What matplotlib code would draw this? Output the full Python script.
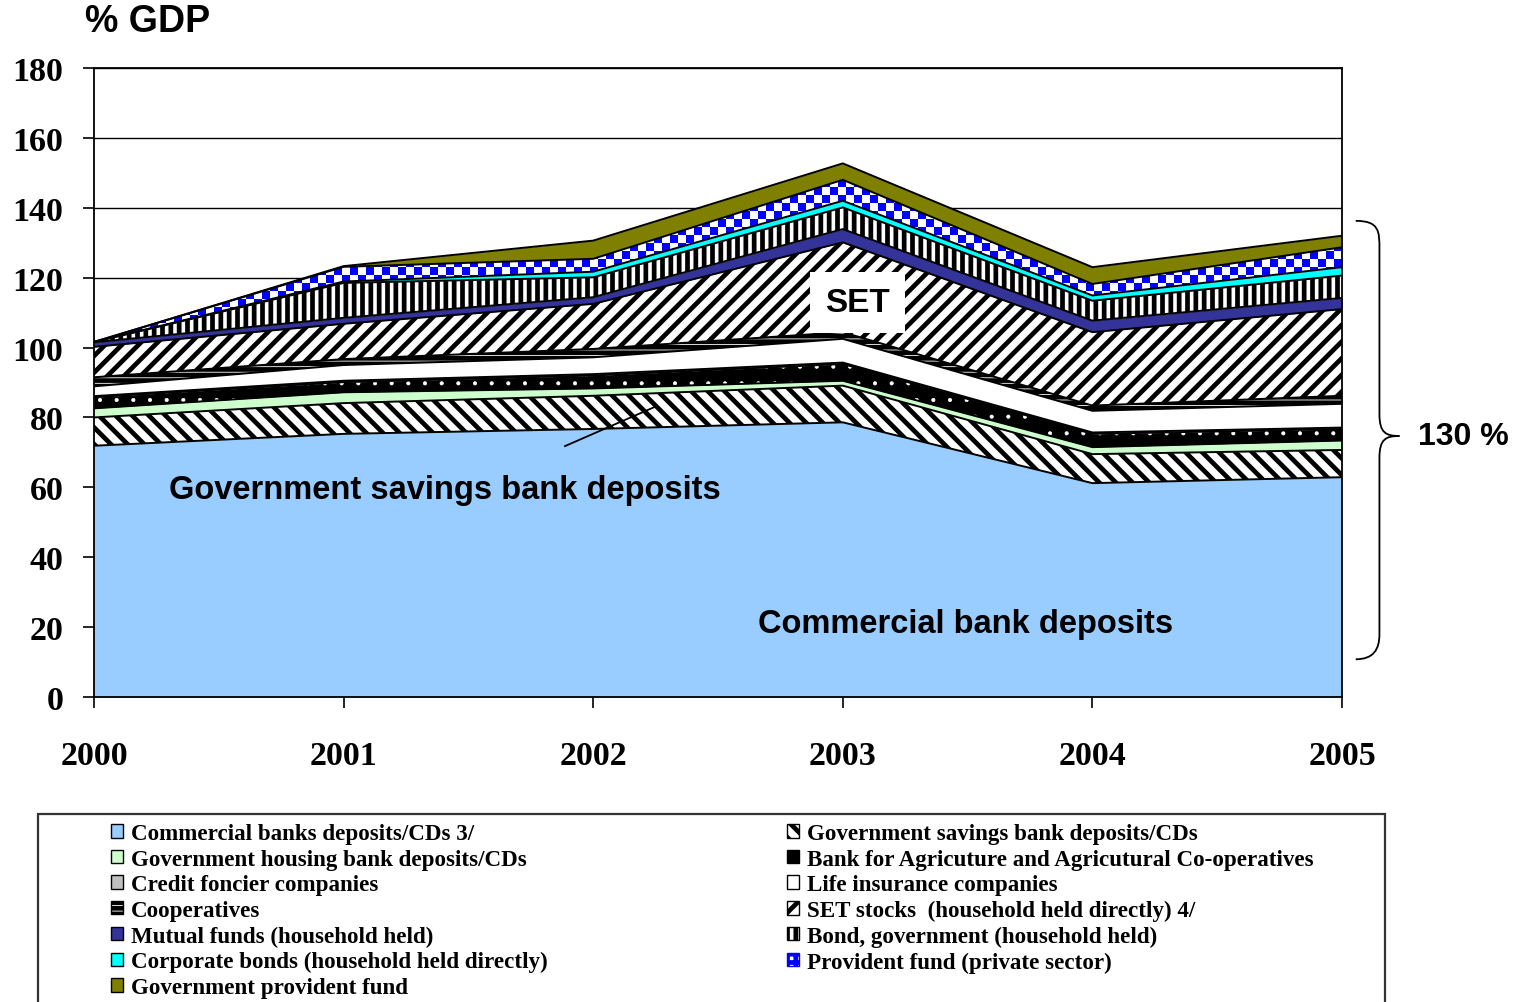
import numpy as np
import matplotlib
import matplotlib.pyplot as plt
from matplotlib.patches import Patch, Rectangle, PathPatch
from matplotlib.path import Path
from matplotlib.colors import ListedColormap

plt.rcParams['hatch.linewidth'] = 3.4

years = [2000, 2001, 2002, 2003, 2004, 2005]

# % of GDP (layer thickness, bottom to top)
commercial = [71.9, 75.3, 76.7, 78.6, 61.2, 62.9]
gov_savings = [8.1, 8.8, 9.5, 10.5, 8.3, 7.8]
gov_housing = [2.6, 3.1, 2.1, 1.4, 2.0, 2.7]
baac = [3.2, 2.9, 3.7, 4.8, 3.8, 3.3]
credit_foncier = [0.3, 0.4, 0.4, 0.4, 0.4, 0.4]
life_insurance = [2.8, 4.5, 4.8, 6.8, 6.2, 6.8]
cooperatives = [2.6, 1.7, 2.4, 1.9, 1.5, 2.3]
set_stocks = [8.7, 10.1, 12.9, 25.7, 21.0, 24.8]
mutual_funds = [1.3, 1.7, 1.9, 3.8, 3.3, 3.2]
bond_gov = [0.1, 10.0, 5.7, 6.2, 5.7, 6.4]
corp_bonds = [0.0, 0.4, 1.6, 1.9, 1.5, 2.4]
provident_private = [0.0, 4.2, 3.7, 6.0, 3.3, 5.7]
gov_provident = [0.0, 0.2, 5.2, 4.7, 4.8, 3.3]

labels = [
    "Commercial banks deposits/CDs 3/",
    "Government savings bank deposits/CDs",
    "Government housing bank deposits/CDs",
    "Bank for Agricuture and Agricutural Co-operatives",
    "Credit foncier companies",
    "Life insurance companies",
    "Cooperatives",
    "SET stocks  (household held directly) 4/",
    "Mutual funds (household held)",
    "Bond, government (household held)",
    "Corporate bonds (household held directly)",
    "Provident fund (private sector)",
    "Government provident fund",
]
series = [commercial, gov_savings, gov_housing, baac, credit_foncier,
          life_insurance, cooperatives, set_stocks, mutual_funds, bond_gov,
          corp_bonds, provident_private, gov_provident]
faces = ['#99CCFF', 'white', '#CCFFCC', 'black', '#C0C0C0', 'white', 'white',
         'white', '#333399', 'white', '#00FFFF', 'white', '#808000']
hatches = [None, '\\\\', None, None, None, None, '---', '//', None, '||',
           None, None, None]

fig = plt.figure(figsize=(15.18, 10.03), dpi=100)
ax = fig.add_axes([94/1518, 1-698/1003, 1248/1518, 629/1003])

x = np.array(years)
data = np.array(series)
tops = np.cumsum(data, axis=0)
bottoms = tops - data

for i in range(len(series)):
    ax.fill_between(x, bottoms[i], tops[i], facecolor=faces[i],
                    edgecolor='black', hatch=hatches[i], linewidth=0, zorder=2)

# white dots on the BAAC band
with plt.rc_context({'hatch.linewidth': 0.5}):
    ax.fill_between(x, bottoms[3], tops[3], facecolor='none',
                    edgecolor='white', hatch='.', linewidth=0, zorder=2.2)

# checkerboard for the private provident fund band
prov = ax.fill_between(x, bottoms[11], tops[11], facecolor='none',
                       linewidth=0, zorder=2.3)
checker = np.indices((79, 156)).sum(axis=0) % 2
im = ax.imshow(checker, cmap=ListedColormap(['white', '#0000FF']),
               extent=(2000, 2005, 0, 180), aspect='auto',
               interpolation='nearest', zorder=2.4)
im.set_clip_path(prov.get_paths()[0], ax.transData)

for i in range(len(series)):
    ax.plot(x, tops[i], color='black', lw=1.4, zorder=3)

ax.set_xlim(2000, 2005)
ax.set_ylim(0, 180)
ax.set_yticks(range(0, 181, 20))
ax.set_xticks(years)
ax.yaxis.grid(True, color='black', lw=1.0)
ax.set_axisbelow(True)
for s in ax.spines.values():
    s.set_linewidth(1.3)
ax.tick_params(axis='y', direction='out', length=8, width=1.2, pad=14)
ax.tick_params(axis='x', direction='out', length=8, width=1.2, pad=23)
for lab in ax.get_xticklabels() + ax.get_yticklabels():
    lab.set_fontfamily('Liberation Serif')
    lab.set_fontweight('bold')
    lab.set_fontsize(24.5)

sans = 'Liberation Sans'
fig.text(85/1518, 1-22/1003, '% GDP', family=sans, weight='bold',
         fontsize=27, va='center', ha='left')
ax.text(2000.30, 59.5, 'Government savings bank deposits', family=sans,
        weight='bold', fontsize=23.5, va='center', ha='left', zorder=5)
ax.text(2003.49, 20.9, 'Commercial bank deposits', family=sans,
        weight='bold', fontsize=23.5, va='center', ha='center', zorder=5)
ax.text(2003.06, 112.8, 'SET', family=sans, weight='bold', fontsize=24,
        va='center', ha='center', zorder=5,
        bbox=dict(facecolor='white', edgecolor='none',
                  boxstyle='square,pad=0.45'))
ax.plot([2001.887, 2002.256], [71.8, 83.3], color='black', lw=1.3, zorder=5)

# curly brace + total
verts = [(1.011, 0.757), (1.030, 0.757), (1.030, 0.740), (1.030, 0.712),
         (1.030, 0.450),
         (1.030, 0.420), (1.035, 0.415), (1.046, 0.415),
         (1.035, 0.415), (1.030, 0.410), (1.030, 0.380),
         (1.030, 0.100),
         (1.030, 0.075), (1.025, 0.060), (1.011, 0.060)]
codes = [Path.MOVETO, Path.CURVE4, Path.CURVE4, Path.CURVE4, Path.LINETO,
         Path.CURVE4, Path.CURVE4, Path.CURVE4,
         Path.CURVE4, Path.CURVE4, Path.CURVE4,
         Path.LINETO,
         Path.CURVE4, Path.CURVE4, Path.CURVE4]
ax.add_patch(PathPatch(Path(verts, codes), transform=ax.transAxes,
                       facecolor='none', edgecolor='black', lw=1.3,
                       clip_on=False))
ax.text(1.061, 0.415, '130 %', transform=ax.transAxes, family=sans,
        weight='bold', fontsize=23, va='center', ha='left')

# legend box (runs off the bottom edge)
fig.patches.append(Rectangle((38/1518, -0.02), 1347/1518, 0.02+1-815/1003,
                             transform=fig.transFigure, facecolor='none',
                             edgecolor='#333333', lw=1.6))

handles = []
for i in range(len(series)):
    if i == 11:
        handles.append(Patch(facecolor='white', edgecolor='#0000FF', hatch='++'))
    else:
        handles.append(Patch(facecolor=faces[i], edgecolor='black',
                             hatch=hatches[i], lw=1))
leg_font = dict(family='Liberation Serif', weight='bold', size=16.6)
common = dict(loc='upper left', frameon=False, borderpad=0, borderaxespad=0,
              handlelength=0.52, handleheight=0.52, handletextpad=0.35,
              labelspacing=0.2, prop=leg_font)
left_idx = [0, 2, 4, 6, 8, 10, 12]
right_idx = [1, 3, 5, 7, 9, 11]
fig.legend([handles[i] for i in left_idx], [labels[i] for i in left_idx],
           bbox_to_anchor=(111/1518, 1-824/1003), **common)
fig.legend([handles[i] for i in right_idx], [labels[i] for i in right_idx],
           bbox_to_anchor=(787/1518, 1-824/1003), **common)

fig.savefig('out.png', dpi=100)
